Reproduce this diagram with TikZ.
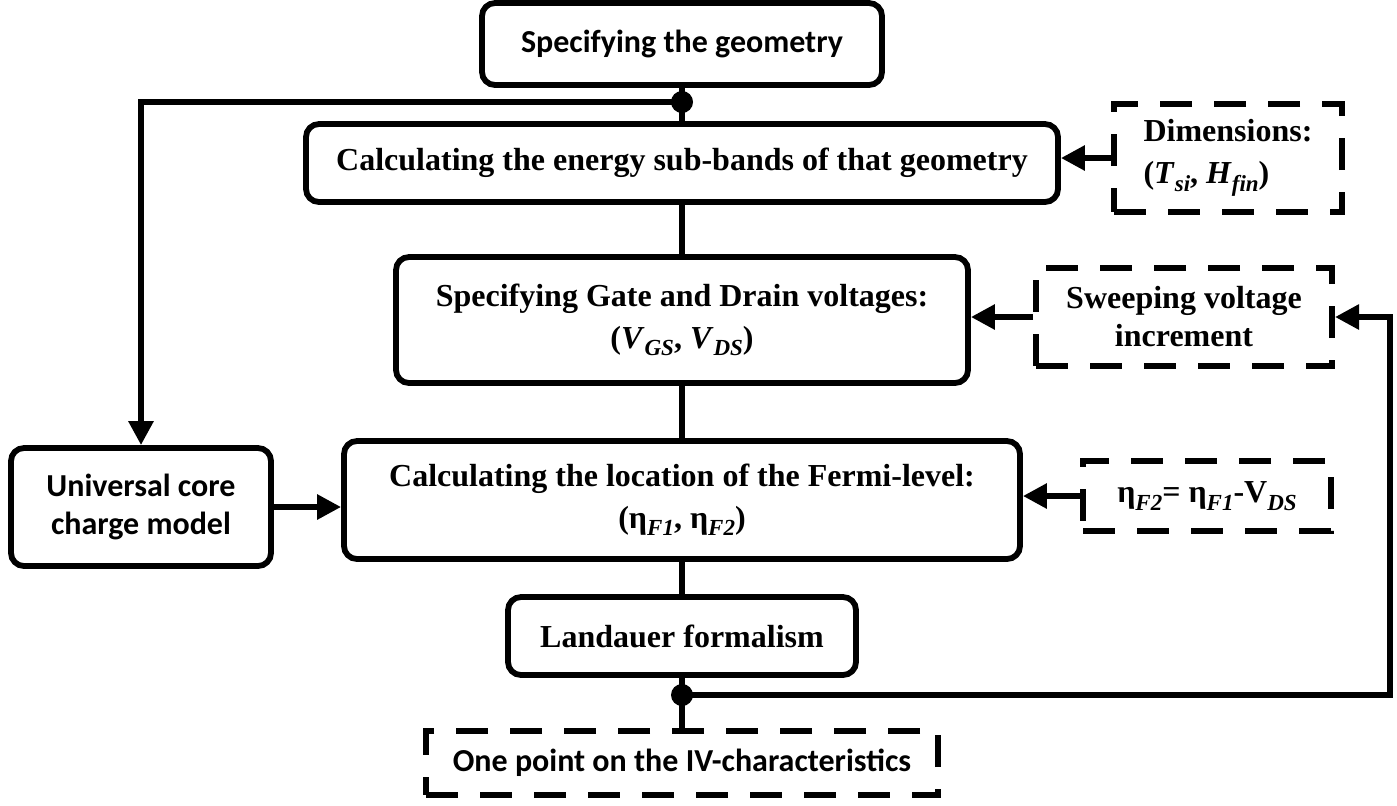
\documentclass[tikz,border=0pt]{standalone}
\usepackage{fontspec}
\setmainfont{Liberation Serif}
\newfontfamily\calibri{Carlito}
\usetikzlibrary{arrows.meta}
\newcommand{\lowsub}[1]{\raisebox{-0.5ex}{\fontsize{11.5}{11.5}\selectfont\itshape #1}}

\begin{document}
\begin{tikzpicture}[x=0.5pt, y=-0.5pt,
  main node/.style={rectangle, rounded corners=6.5pt, draw, line width=2.9pt, align=center, inner sep=0pt, font=\fontsize{16}{21}\selectfont\bfseries},
  sans node/.style={main node, font=\fontsize{16}{19}\selectfont\calibri\bfseries},
  dash node/.style={rectangle, draw, line width=3pt, dash pattern=on 16pt off 11pt, align=center, inner sep=0pt, font=\fontsize{16}{19}\selectfont\bfseries},
  link/.style={line width=2.9pt},
  arr/.style={link, -{Triangle[length=12pt,width=12pt]}}]
  \useasboundingbox (0,0) rectangle (1397,805);

  \node[sans node, minimum width=200pt, minimum height=41pt] (1) at (682,44) {Specifying the geometry};
  \node[main node, minimum width=376pt, minimum height=39pt] (2) at (682,163) {Calculating the energy sub-bands of that geometry};
  \node[main node, minimum width=286pt, minimum height=63pt] (3) at (682,320) {Specifying Gate and Drain voltages:\\(\textit{V}\lowsub{GS}, \textit{V}\lowsub{DS})};
  \node[main node, minimum width=338pt, minimum height=59pt] (4) at (682,500) {Calculating the location of the Fermi-level:\\(η\lowsub{F1}, η\lowsub{F2})};
  \node[main node, minimum width=174pt, minimum height=39pt] (5) at (682,636) {Landauer formalism};
  \node[dash node, font=\fontsize{16}{19}\selectfont\calibri\bfseries, minimum width=256pt, minimum height=32pt] (6) at (682,763) {One point on the IV-characteristics};
  \node[sans node, minimum width=130pt, minimum height=59pt] (ucc) at (141,507) {Universal core\\charge model};
  \node[dash node, align=left, font=\fontsize{16}{21}\selectfont\bfseries, minimum width=114pt, minimum height=54pt] (dim) at (1228,158) {Dimensions:\\(\textit{T}\lowsub{si}, \textit{H}\lowsub{fin})};
  \node[dash node, minimum width=148pt, minimum height=49pt] (sweep) at (1184,317) {Sweeping voltage\\increment};
  \node[dash node, minimum width=124pt, minimum height=35pt] (eta) at (1207,496) {η\lowsub{F2}= η\lowsub{F1}-V\lowsub{DS}};

  \coordinate (j1) at (682,102);
  \coordinate (j2) at (682,695);
  \coordinate (c1) at (1390,695);

  \draw[link] (1) -- (2);
  \draw[link] (2) -- (3);
  \draw[link] (3) -- (4);
  \draw[link] (4) -- (5);
  \draw[link] (5) -- (6);
  \fill (j1) circle (5.5pt);
  \fill (j2) circle (5.5pt);
  \draw[arr] (j1) -| (ucc);
  \draw[arr] (ucc.east) -- (ucc.east -| 4.west);
  \draw[arr] (dim.west) -- (dim.west -| 2.east);
  \draw[arr] (sweep.west) -- (sweep.west -| 3.east);
  \draw[arr] (eta.west) -- (eta.west -| 4.east);
  \draw[arr] (j2) -- (c1) |- (sweep.east);
\end{tikzpicture}
\end{document}
